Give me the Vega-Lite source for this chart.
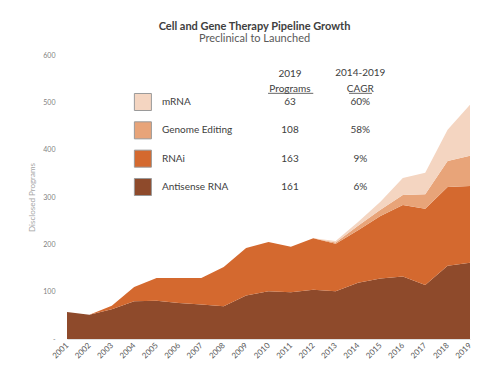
{
  "$schema": "https://vega.github.io/schema/vega-lite/v6.json",
  "width": 403,
  "height": 284,
  "autosize": "none",
  "padding": {"left": 67, "top": 55, "right": 28, "bottom": 40},
  "background": "white",
  "config": {
    "font": "Lato",
    "view": {"stroke": null},
    "axisX": {"labelOverlap": false, "labelAngle": -45, "labelAlign": "right", "labelBaseline": "middle", "labelFontSize": 8, "labelColor": "#595959", "ticks": false, "domainColor": "#e0e0e0", "grid": false, "labelPadding": 5, "title": null, "format": "d", "tickCount": 19},
    "axisY": {"ticks": false, "domain": false, "grid": false, "labelFontSize": 7, "labelColor": "#7f7f7f", "labelPadding": 12, "titleFontSize": 8, "titleFontWeight": "normal", "titleColor": "#a6a6a6", "titlePadding": 6}
  },
  "title": {
    "text": "Cell and Gene Therapy Pipeline Growth",
    "subtitle": "Preclinical to Launched",
    "fontSize": 11,
    "fontWeight": "bold",
    "color": "#404040",
    "subtitleFontSize": 11,
    "subtitleColor": "#595959",
    "subtitlePadding": 1,
    "anchor": "middle",
    "offset": 7,
    "dx": -14
  },
  "layer": [
    {
      "layer": [
        {
          "data": {"values": [
            {"year": 2001, "series": "Antisense RNA", "programs": 57},
            {"year": 2002, "series": "Antisense RNA", "programs": 51},
            {"year": 2003, "series": "Antisense RNA", "programs": 63},
            {"year": 2004, "series": "Antisense RNA", "programs": 80},
            {"year": 2005, "series": "Antisense RNA", "programs": 81},
            {"year": 2006, "series": "Antisense RNA", "programs": 76},
            {"year": 2007, "series": "Antisense RNA", "programs": 73},
            {"year": 2008, "series": "Antisense RNA", "programs": 69},
            {"year": 2009, "series": "Antisense RNA", "programs": 92},
            {"year": 2010, "series": "Antisense RNA", "programs": 101},
            {"year": 2011, "series": "Antisense RNA", "programs": 99},
            {"year": 2012, "series": "Antisense RNA", "programs": 104},
            {"year": 2013, "series": "Antisense RNA", "programs": 101},
            {"year": 2014, "series": "Antisense RNA", "programs": 119},
            {"year": 2015, "series": "Antisense RNA", "programs": 128},
            {"year": 2016, "series": "Antisense RNA", "programs": 132},
            {"year": 2017, "series": "Antisense RNA", "programs": 114},
            {"year": 2018, "series": "Antisense RNA", "programs": 155},
            {"year": 2019, "series": "Antisense RNA", "programs": 161},
            {"year": 2001, "series": "RNAi", "programs": 0},
            {"year": 2002, "series": "RNAi", "programs": 0},
            {"year": 2003, "series": "RNAi", "programs": 7},
            {"year": 2004, "series": "RNAi", "programs": 30},
            {"year": 2005, "series": "RNAi", "programs": 48},
            {"year": 2006, "series": "RNAi", "programs": 53},
            {"year": 2007, "series": "RNAi", "programs": 56},
            {"year": 2008, "series": "RNAi", "programs": 83},
            {"year": 2009, "series": "RNAi", "programs": 100},
            {"year": 2010, "series": "RNAi", "programs": 104},
            {"year": 2011, "series": "RNAi", "programs": 96},
            {"year": 2012, "series": "RNAi", "programs": 109},
            {"year": 2013, "series": "RNAi", "programs": 100},
            {"year": 2014, "series": "RNAi", "programs": 111},
            {"year": 2015, "series": "RNAi", "programs": 132},
            {"year": 2016, "series": "RNAi", "programs": 151},
            {"year": 2017, "series": "RNAi", "programs": 161},
            {"year": 2018, "series": "RNAi", "programs": 166},
            {"year": 2019, "series": "RNAi", "programs": 162},
            {"year": 2001, "series": "Genome Editing", "programs": 0},
            {"year": 2002, "series": "Genome Editing", "programs": 0},
            {"year": 2003, "series": "Genome Editing", "programs": 0},
            {"year": 2004, "series": "Genome Editing", "programs": 0},
            {"year": 2005, "series": "Genome Editing", "programs": 0},
            {"year": 2006, "series": "Genome Editing", "programs": 0},
            {"year": 2007, "series": "Genome Editing", "programs": 0},
            {"year": 2008, "series": "Genome Editing", "programs": 0},
            {"year": 2009, "series": "Genome Editing", "programs": 0},
            {"year": 2010, "series": "Genome Editing", "programs": 0},
            {"year": 2011, "series": "Genome Editing", "programs": 0},
            {"year": 2012, "series": "Genome Editing", "programs": 0},
            {"year": 2013, "series": "Genome Editing", "programs": 3},
            {"year": 2014, "series": "Genome Editing", "programs": 9},
            {"year": 2015, "series": "Genome Editing", "programs": 13},
            {"year": 2016, "series": "Genome Editing", "programs": 21},
            {"year": 2017, "series": "Genome Editing", "programs": 31},
            {"year": 2018, "series": "Genome Editing", "programs": 55},
            {"year": 2019, "series": "Genome Editing", "programs": 64},
            {"year": 2001, "series": "mRNA", "programs": 0},
            {"year": 2002, "series": "mRNA", "programs": 0},
            {"year": 2003, "series": "mRNA", "programs": 0},
            {"year": 2004, "series": "mRNA", "programs": 0},
            {"year": 2005, "series": "mRNA", "programs": 0},
            {"year": 2006, "series": "mRNA", "programs": 0},
            {"year": 2007, "series": "mRNA", "programs": 0},
            {"year": 2008, "series": "mRNA", "programs": 0},
            {"year": 2009, "series": "mRNA", "programs": 0},
            {"year": 2010, "series": "mRNA", "programs": 0},
            {"year": 2011, "series": "mRNA", "programs": 0},
            {"year": 2012, "series": "mRNA", "programs": 0},
            {"year": 2013, "series": "mRNA", "programs": 3},
            {"year": 2014, "series": "mRNA", "programs": 8},
            {"year": 2015, "series": "mRNA", "programs": 17},
            {"year": 2016, "series": "mRNA", "programs": 36},
            {"year": 2017, "series": "mRNA", "programs": 45},
            {"year": 2018, "series": "mRNA", "programs": 66},
            {"year": 2019, "series": "mRNA", "programs": 108}
          ]},
          "transform": [
            {"calculate": "indexof(['Antisense RNA','RNAi','Genome Editing','mRNA'], datum.series)", "as": "ord"}
          ],
          "mark": {"type": "area", "opacity": 1},
          "encoding": {
            "x": {
              "field": "year", "type": "quantitative",
              "scale": {"domain": [2001, 2019], "nice": false, "zero": false},
              "axis": {
                "values": [2001,2002,2003,2004,2005,2006,2007,2008,2009,2010,2011,2012,2013,2014,2015,2016,2017,2018,2019],
                "labelOverlap": false
              }
            },
            "y": {
              "field": "programs", "type": "quantitative", "stack": "zero",
              "scale": {"domain": [0, 600], "nice": false},
              "axis": {
                "values": [0,100,200,300,400,500,600],
                "labelExpr": "datum.value == 0 ? '-' : datum.label",
                "title": "Disclosed Programs"
              }
            },
            "color": {
              "field": "series", "type": "nominal",
              "scale": {"domain": ["mRNA", "Genome Editing", "RNAi", "Antisense RNA"],
                        "range": ["#f4d5c1", "#e8a479", "#d4692f", "#8e4a2b"]},
              "legend": null
            },
            "order": {"field": "ord", "type": "quantitative"}
          }
        },
        {
          "data": {"values": [{}]},
          "mark": {"type": "text", "fontSize": 10, "color": "#404040", "baseline": "middle", "align": "center"},
          "encoding": {"x": {"datum": 2010.96}, "y": {"datum": 559}, "text": {"value": "2019"}}
        },
        {
          "data": {"values": [{}]},
          "mark": {"type": "text", "fontSize": 10, "color": "#404040", "baseline": "middle", "align": "center"},
          "encoding": {"x": {"datum": 2010.96}, "y": {"datum": 528}, "text": {"value": "Programs"}}
        },
        {
          "data": {"values": [{}]},
          "mark": {"type": "text", "fontSize": 10, "color": "#404040", "baseline": "middle", "align": "center"},
          "encoding": {"x": {"datum": 2014.1}, "y": {"datum": 562}, "text": {"value": "2014-2019"}}
        },
        {
          "data": {"values": [{}]},
          "mark": {"type": "text", "fontSize": 10, "color": "#404040", "baseline": "middle", "align": "center"},
          "encoding": {"x": {"datum": 2014.1}, "y": {"datum": 528}, "text": {"value": "CAGR"}}
        },
        {
          "data": {"values": [{}]},
          "mark": {"type": "rule", "color": "#404040", "strokeWidth": 0.8},
          "encoding": {"x": {"datum": 2009.98}, "x2": {"datum": 2012.0}, "y": {"datum": 519}}
        },
        {
          "data": {"values": [{}]},
          "mark": {"type": "rule", "color": "#404040", "strokeWidth": 0.8},
          "encoding": {"x": {"datum": 2013.6}, "x2": {"datum": 2014.62}, "y": {"datum": 519}}
        }
      ]
    },
    {
      "data": {"values": [
        {"series": "mRNA", "programs": "63", "cagr": "60%"},
        {"series": "Genome Editing", "programs": "108", "cagr": "58%"},
        {"series": "RNAi", "programs": "163", "cagr": "9%"},
        {"series": "Antisense RNA", "programs": "161", "cagr": "6%"}
      ]},
      "encoding": {
        "y": {
          "field": "series", "type": "ordinal",
          "scale": {"type": "point", "domain": ["mRNA", "Genome Editing", "RNAi", "Antisense RNA"], "range": [47, 132], "padding": 0},
          "axis": null
        }
      },
      "layer": [
        {
          "mark": {"type": "square", "size": 290, "opacity": 1, "stroke": "#9a9a9a", "strokeWidth": 1},
          "encoding": {
            "x": {"datum": 2004.39},
            "color": {"field": "series", "type": "nominal", "legend": null}
          }
        },
        {
          "mark": {"type": "text", "fontSize": 10, "color": "#404040", "align": "left", "baseline": "middle"},
          "encoding": {"x": {"datum": 2005.24}, "text": {"field": "series"}}
        },
        {
          "mark": {"type": "text", "fontSize": 10, "color": "#404040", "align": "center", "baseline": "middle"},
          "encoding": {"x": {"datum": 2010.96}, "text": {"field": "programs"}}
        },
        {
          "mark": {"type": "text", "fontSize": 10, "color": "#404040", "align": "center", "baseline": "middle"},
          "encoding": {"x": {"datum": 2014.1}, "text": {"field": "cagr"}}
        }
      ]
    }
  ],
  "resolve": {"scale": {"y": "independent"}}
}
